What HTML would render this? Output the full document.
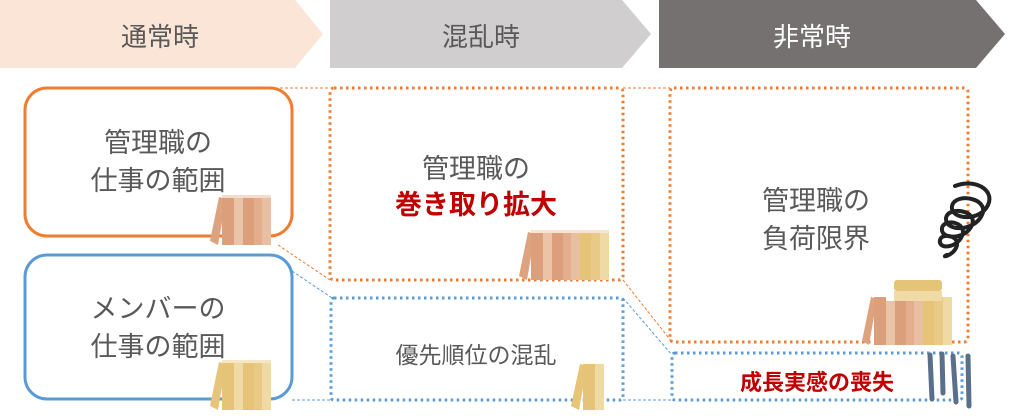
<!DOCTYPE html>
<html><head><meta charset="utf-8"><style>
html,body{margin:0;padding:0;background:#fff;}
svg{display:block;}
text{font-family:"Liberation Sans","Noto Sans CJK JP",sans-serif;}
</style></head><body>
<svg width="1023" height="419" viewBox="0 0 1023 419" xmlns="http://www.w3.org/2000/svg">
<defs>
<g id="bk">
 <polygon points="0,46 9,2 16,4 8,50" fill="#dda27e"/>
 <rect x="12" y="2" width="12" height="48" fill="#dc9f7b"/>
 <rect x="24" y="2" width="9" height="48" fill="#ebc4a8"/>
 <rect x="33" y="2" width="11" height="48" fill="#dc9f7b"/>
 <rect x="44" y="2" width="8" height="48" fill="#e2ae8e"/>
 <rect x="52" y="2" width="9" height="48" fill="#e9bfa2"/>
 <rect x="12" y="0" width="49" height="3" fill="#f3dccb"/>
</g>
<g id="by">
 <polygon points="0,46 9,2 16,4 8,50" fill="#e6c479"/>
 <rect x="12" y="2" width="12" height="48" fill="#e5c47a"/>
 <rect x="24" y="2" width="9" height="48" fill="#efd9a4"/>
 <rect x="33" y="2" width="11" height="48" fill="#e5c47a"/>
 <rect x="44" y="2" width="8" height="48" fill="#e8ca86"/>
 <rect x="52" y="2" width="9" height="48" fill="#efd9a4"/>
 <rect x="12" y="0" width="49" height="3" fill="#f6e7c2"/>
</g>
</defs>
<!-- header -->
<polygon points="0,0 295,0 323,34 295,68 0,68" fill="#fbe5d6"/>
<polygon points="330,0 622,0 651,34 622,68 330,68" fill="#d0cece"/>
<polygon points="659,0 976,0 1005,34 976,68 659,68" fill="#767171"/>
<text x="160" y="46" font-size="26" fill="#595959" text-anchor="middle">通常時</text>
<text x="481" y="46" font-size="26" fill="#595959" text-anchor="middle">混乱時</text>
<text x="812" y="46" font-size="26" fill="#fff" text-anchor="middle">非常時</text>

<!-- connectors -->
<g stroke-width="1" stroke-dasharray="3,2" fill="none">
 <path d="M280,88 L330,88 M278,245 L330,280 M623,88 L670,88 M623,280 L672,342" stroke="#ed7d31"/>
 <path d="M292,271 L332,298 M292,400 L330,400 M623,298 L672,355 M623,400 L672,400" stroke="#5b9bd5"/>
</g>

<!-- solid boxes -->
<rect x="25" y="88" width="267" height="148" rx="22" fill="#fff" stroke="#ed7d31" stroke-width="3"/>
<rect x="25" y="255" width="267" height="144" rx="22" fill="#fff" stroke="#5b9bd5" stroke-width="3"/>

<!-- dotted boxes -->
<g fill="none" stroke-width="3" stroke-dasharray="2.5,3.5">
 <rect x="330" y="88" width="293" height="192" rx="4" stroke="#ed7d31"/>
 <rect x="670" y="88" width="298" height="254" rx="4" stroke="#ed7d31"/>
 <rect x="331" y="298" width="292" height="102" rx="3" stroke="#5b9bd5"/>
 <rect x="672" y="353" width="290" height="47" rx="3" stroke="#5b9bd5"/>
</g>

<!-- texts -->
<g font-size="27" fill="#595959" text-anchor="middle">
 <text x="158" y="152">管理職の</text>
 <text x="158" y="190">仕事の範囲</text>
 <text x="158" y="318">メンバーの</text>
 <text x="158" y="356">仕事の範囲</text>
 <text x="476" y="178">管理職の</text>
 <text x="816" y="210">管理職の</text>
 <text x="816" y="248">負荷限界</text>
 <text x="476" y="363" font-size="23">優先順位の混乱</text>
</g>
<text x="476" y="214" font-size="27" font-weight="bold" fill="#c00000" text-anchor="middle">巻き取り拡大</text>
<text x="817" y="390" font-size="22" font-weight="bold" fill="#c00000" text-anchor="middle">成長実感の喪失</text>

<!-- books -->
<use href="#bk" x="210" y="195"/>
<use href="#by" x="210" y="360"/>
<g transform="translate(519,230)">
 <polygon points="0,46 9,2 16,4 8,50" fill="#dda27e"/>
 <rect x="12" y="2" width="12" height="48" fill="#dc9f7b"/>
 <rect x="24" y="2" width="9" height="48" fill="#ebc4a8"/>
 <rect x="33" y="2" width="11" height="48" fill="#dc9f7b"/>
 <rect x="44" y="2" width="8" height="48" fill="#e2ae8e"/>
 <rect x="52" y="2" width="9" height="48" fill="#e9bfa2"/>
 <rect x="61" y="2" width="11" height="48" fill="#e5c47a"/>
 <rect x="72" y="2" width="9" height="48" fill="#e8ca86"/>
 <rect x="81" y="2" width="9" height="48" fill="#efd9a4"/>
 <rect x="12" y="0" width="78" height="3" fill="#f5e4d0"/>
</g>
<g transform="translate(571,362)">
 <polygon points="0,44 9,2 16,4 8,48" fill="#e6c479"/>
 <rect x="12" y="2" width="12" height="46" fill="#e5c47a"/>
 <rect x="24" y="2" width="9" height="46" fill="#efd9a4"/>
</g>
<g transform="translate(862,297)">
 <polygon points="0,44 9,0 15,2 7,48" fill="#dda27e"/>
 <rect x="12" y="0" width="12" height="48" fill="#dc9f7b"/>
 <rect x="24" y="4" width="9" height="44" fill="#ebc4a8"/>
 <rect x="33" y="4" width="11" height="44" fill="#dc9f7b"/>
 <rect x="44" y="4" width="8" height="44" fill="#e2ae8e"/>
 <rect x="52" y="4" width="9" height="44" fill="#e9bfa2"/>
 <rect x="61" y="0" width="11" height="48" fill="#e5c47a"/>
 <rect x="72" y="0" width="9" height="48" fill="#e8ca86"/>
 <rect x="81" y="0" width="9" height="48" fill="#efd9a4"/>
 <rect x="32" y="-6" width="48" height="10" fill="#f0dba6"/>
 <rect x="32" y="-17" width="48" height="11" rx="3" fill="#e5c47a"/>
</g>

<!-- spring -->
<g fill="none" stroke="#222" stroke-width="4" stroke-linecap="round">
 <path d="M955,186 C975,178 995,190 988,205 C980,222 950,220 952,206 C955,192 990,198 982,215 C974,232 945,232 946,218 C948,206 978,210 972,225 C966,240 940,240 942,228 C944,218 968,222 962,236 C957,248 938,250 940,240 C942,232 962,236 956,248 C952,256 940,258 947,255"/>
</g>
<!-- stress lines -->
<g stroke="#5a6f89" stroke-width="5" stroke-linecap="round">
 <line x1="930" y1="355" x2="932" y2="399"/>
 <line x1="942" y1="354" x2="943" y2="393"/>
 <line x1="953" y1="356" x2="956" y2="402"/>
 <line x1="968" y1="356" x2="969" y2="406"/>
</g>
</svg>
</body></html>
